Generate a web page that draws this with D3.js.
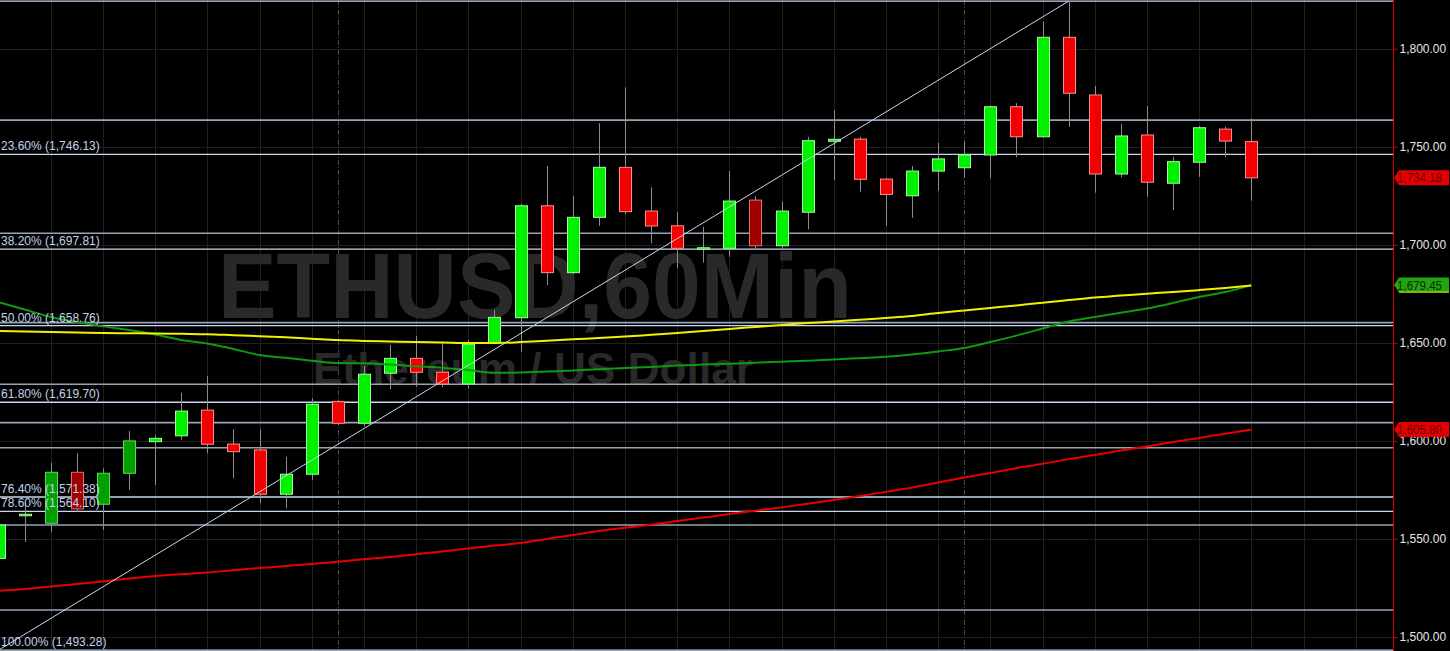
<!DOCTYPE html>
<html><head><meta charset="utf-8">
<script src="https://cdn.jsdelivr.net/npm/d3@7"></script>
<style>html,body{margin:0;padding:0;background:#000;overflow:hidden}</style>
</head><body>
<svg id="c" width="1450" height="651"></svg>
<script>
// ---- DATA ----
const opens  = [1540.1,1562.0,1558.0,1584.0,1567.7,1583.5,1599.6,1602.6,1615.7,1598.4,
                1595.4,1572.8,1583.0,1620.0,1609.0,1634.5,1642.1,1635.0,1629.0,1650.1,
                1662.8,1719.9,1685.8,1714.0,1739.5,1717.2,1709.7,1698.0,1698.2,1722.8,
                1699.5,1716.6,1752.8,1753.9,1733.5,1725.0,1737.6,1739.3,1745.8,1770.4,
                1755.1,1805.8,1776.4,1736.1,1756.0,1731.4,1742.1,1759.0,1752.6];
const highs  = [1559.0,1568.3,1588.9,1593.7,1586.0,1605.0,1603.0,1624.6,1633.2,1605.9,
                1605.9,1591.9,1621.7,1621.0,1638.2,1648.9,1653.5,1650.6,1651.4,1666.7,
                1720.8,1740.2,1724.9,1762.0,1780.3,1729.3,1716.6,1709.2,1737.6,1724.9,
                1722.0,1755.1,1768.7,1755.0,1734.0,1740.2,1752.0,1752.6,1771.0,1772.2,
                1813.8,1824.24,1781.0,1761.6,1770.8,1744.9,1760.5,1760.2,1764.5];
const lows   = [1538.0,1548.4,1553.7,1563.7,1554.6,1575.0,1577.5,1600.5,1593.7,1580.9,
                1568.2,1565.6,1580.1,1608.0,1607.5,1626.3,1627.6,1627.5,1626.8,1649.5,
                1645.5,1679.5,1685.0,1709.6,1715.7,1700.8,1688.0,1690.9,1693.9,1697.3,
                1698.2,1707.9,1733.0,1727.1,1709.7,1713.8,1727.6,1734.1,1733.9,1744.6,
                1754.5,1760.2,1726.6,1734.4,1724.5,1717.7,1734.7,1744.6,1722.5];
const closes = [1557.1,1562.6,1584.0,1565.3,1583.5,1600.0,1601.3,1615.2,1598.3,1594.5,
                1572.8,1583.0,1618.7,1609.0,1634.0,1642.1,1635.0,1629.0,1649.3,1663.0,
                1719.9,1685.8,1714.0,1739.5,1716.9,1709.6,1698.2,1698.5,1722.3,1699.5,
                1717.2,1753.1,1753.8,1733.4,1725.7,1737.6,1743.8,1745.8,1770.4,1755.1,
                1805.8,1777.3,1736.1,1755.5,1731.9,1742.4,1759.7,1752.9,1734.18];
const dimCandles = [2,3,4,5,29];

const smaYellow = [1656.0,1655.8,1655.5,1655.3,1655.0,1654.9,1654.8,1654.6,1654.4,1653.9,
                   1653.4,1652.8,1652.1,1651.4,1651.0,1650.7,1650.4,1650.2,1649.9,1649.9,
                   1650.4,1651.1,1651.8,1652.5,1653.2,1654.1,1655.0,1656.0,1657.1,1658.1,
                   1659.1,1660.1,1660.9,1661.8,1662.7,1663.7,1665.2,1666.5,1667.8,1669.1,
                   1670.5,1671.8,1673.1,1674.1,1675.1,1675.9,1676.9,1678.0,1679.2];
const smaGreen  = [1670.8,1667.0,1663.2,1660.6,1658.4,1656.5,1654.3,1651.5,1649.7,1646.9,
                   1643.8,1642.4,1640.9,1639.7,1639.6,1638.9,1638.1,1637.3,1636.1,1634.7,
                   1634.9,1635.4,1635.9,1636.6,1637.2,1637.7,1638.4,1638.9,1639.4,1639.9,
                   1640.4,1640.9,1641.5,1642.2,1642.9,1644.0,1645.6,1647.4,1650.4,1653.7,
                   1657.3,1660.9,1663.2,1665.4,1667.5,1670.3,1673.4,1675.9,1679.45];
const smaRed    = [1523.5,1524.5,1525.8,1527.0,1528.3,1529.8,1531.1,1532.0,1532.9,1534.1,
                   1535.2,1536.2,1537.2,1538.4,1539.6,1540.8,1542.2,1543.6,1545.1,1546.6,
                   1547.9,1550.0,1552.0,1554.0,1555.7,1557.3,1559.1,1560.9,1562.7,1564.4,
                   1566.1,1567.9,1569.9,1571.9,1574.0,1576.2,1578.8,1581.3,1583.6,1586.1,
                   1588.3,1590.7,1592.8,1595.1,1597.2,1599.4,1601.5,1603.7,1605.80];

const fibLabels = ["0.00%","23.60%","38.20%","50.00%","61.80%","76.40%","78.60%","100.00%"];
const fibPrices = [1824.24,1746.13,1697.81,1658.76,1619.70,1571.38,1564.10,1493.28];
const fibAnchorIdx = [0,41];
const fibAnchorPrice = [1493.28,1824.24];
const levelLines = [1763.6,1705.9,1660.3,1628.9,1609.3,1596.5,1557.1,1513.8];
const yTicks = [1500,1550,1600,1650,1700,1750,1800];
const sessionBreaks = [13,37];
const watermark = "ETHUSD,60Min";
const subtitle = "Ethereum / US Dollar";

// ---- DRAWING ----
const W = 1450, H = 651, plotR = 1393;
const svg = d3.select("#c");
const n = closes.length;
const x = d3.scaleLinear().domain([0, n-1]).range([-1.5, 1251.3]);
const y = d3.scaleLinear().domain([1500, 1800]).range([637, 48.7]);
const fmt = d3.format(",.2f");
const FONT = "Liberation Sans, Arial, sans-serif";

svg.append("rect").attr("width", W).attr("height", H).attr("fill", "#000");
svg.append("defs").append("clipPath").attr("id","clip")
   .append("rect").attr("x",0).attr("y",0).attr("width",plotR).attr("height",H);

const plot = svg.append("g").attr("clip-path","url(#clip)");

// grid
plot.append("g").selectAll("line").data(yTicks).join("line")
  .attr("x1",0).attr("x2",plotR).attr("y1",d=>Math.round(y(d))+0.5).attr("y2",d=>Math.round(y(d))+0.5)
  .attr("stroke","#1f1f1f").attr("stroke-width",1);
const gridIdx = d3.range(0, 60, 2);
plot.append("g").selectAll("line").data(gridIdx).join("line")
  .attr("x1",d=>Math.round(x(d))+0.5).attr("x2",d=>Math.round(x(d))+0.5).attr("y1",0).attr("y2",H)
  .attr("stroke","#1f1f1f").attr("stroke-width",1);
plot.append("g").selectAll("line").data(sessionBreaks).join("line")
  .attr("x1",d=>Math.round(x(d))+0.5).attr("x2",d=>Math.round(x(d))+0.5).attr("y1",0).attr("y2",H)
  .attr("stroke","#4a4a4a").attr("stroke-width",1).attr("stroke-dasharray","5,2,1,2");

// watermark
plot.append("text").attr("x",218).attr("y",318).text(watermark)
  .attr("font-family",FONT).attr("font-weight","bold")
  .attr("font-size",93).attr("fill","#292929").attr("textLength",634).attr("lengthAdjust","spacingAndGlyphs");
plot.append("text").attr("x",313).attr("y",384).text(subtitle)
  .attr("font-family",FONT).attr("font-weight","bold")
  .attr("font-size",44).attr("fill","#292929").attr("textLength",440).attr("lengthAdjust","spacingAndGlyphs");

// level lines
plot.append("g").selectAll("line").data(levelLines).join("line")
  .attr("x1",0).attr("x2",plotR).attr("y1",d=>y(d)).attr("y2",d=>y(d))
  .attr("stroke","#97a3b5").attr("stroke-width",1.6);
plot.append("g").selectAll("line").data(fibPrices).join("line")
  .attr("x1",0).attr("x2",plotR).attr("y1",d=>y(d)).attr("y2",d=>y(d))
  .attr("stroke","#c9d7ee").attr("stroke-width",1.3);

// candles
const cg = plot.append("g");
const idx = d3.range(n);
cg.selectAll("line").data(idx).join("line")
  .attr("x1",i=>Math.round(x(i))+0.5).attr("x2",i=>Math.round(x(i))+0.5)
  .attr("y1",i=>y(highs[i])).attr("y2",i=>y(lows[i]))
  .attr("stroke","#8c8c8c").attr("stroke-width",1);
const bw = 12;
cg.selectAll("rect").data(idx).join("rect")
  .attr("x",i=>Math.round(x(i))-bw/2+0.5).attr("width",bw)
  .attr("y",i=>y(Math.max(opens[i],closes[i])))
  .attr("height",i=>Math.max(1.5, Math.abs(y(opens[i])-y(closes[i]))))
  .attr("fill",i=>{
    const up = closes[i]>=opens[i], dim = dimCandles.includes(i);
    return up ? (dim?"#00a000":"#00f000") : (dim?"#a00000":"#f00000");
  })
  .attr("stroke",i=>{
    const up = closes[i]>=opens[i], dim = dimCandles.includes(i);
    return up ? (dim?"#5fd25f":"#9bff9b") : (dim?"#e07070":"#ff8c8c");
  }).attr("stroke-width",1);

// moving averages
const line = d3.line().x((d,i)=>x(i)).y(d=>y(d)).curve(d3.curveMonotoneX);
plot.append("path").datum(smaRed).attr("d",line).attr("fill","none").attr("stroke","#e80000").attr("stroke-width",2);
plot.append("path").datum(smaGreen).attr("d",line).attr("fill","none").attr("stroke","#0f9a0f").attr("stroke-width",2);
plot.append("path").datum(smaYellow).attr("d",line).attr("fill","none").attr("stroke","#f2f200").attr("stroke-width",2);

// fib trend line
plot.append("line")
  .attr("x1",x(fibAnchorIdx[0])).attr("y1",y(fibAnchorPrice[0]))
  .attr("x2",x(fibAnchorIdx[1])).attr("y2",y(fibAnchorPrice[1]))
  .attr("stroke","#c9d7ee").attr("stroke-width",1);

// fib labels (on top of candles)
plot.append("g").selectAll("text").data(fibPrices.map((p,i)=>({p,l:fibLabels[i]})).filter((d,i)=>i>0)).join("text")
  .attr("x",1).attr("y",d=>y(d.p)-4)
  .text(d=>`${d.l} (${fmt(d.p)})`)
  .attr("font-family",FONT).attr("font-size",12).attr("fill","#c4d2ea");

// right axis
svg.append("line").attr("x1",plotR+0.5).attr("x2",plotR+0.5).attr("y1",0).attr("y2",H)
  .attr("stroke","#d40000").attr("stroke-width",1);
const ax = svg.append("g").attr("transform",`translate(${plotR+0.5},0)`)
  .call(d3.axisRight(y).tickValues(yTicks).tickFormat(fmt).tickSize(4).tickPadding(2));
ax.select(".domain").remove();
ax.selectAll(".tick line").attr("stroke","#d40000");
ax.selectAll(".tick text").attr("fill","#e6e6e6").attr("font-family",FONT).attr("font-size",12);

// price tags
const tags = [
  {v: closes[n-1], fill:"#e40000", text:"#6a0000", edge:null},
  {v: smaGreen[n-1], fill:"#23a412", text:"#052e05", edge:"#e8e800"},
  {v: smaRed[n-1], fill:"#e40000", text:"#6a0000", edge:null}
];
const tg = svg.append("g");
tags.forEach(t=>{
  const cy = y(t.v), h = 15, x0 = plotR+1, x1 = W-1;
  tg.append("path")
    .attr("d",`M${x0},${cy} L${x0+5},${cy-h/2} L${x1},${cy-h/2} L${x1},${cy+h/2} L${x0+5},${cy+h/2} Z`)
    .attr("fill",t.fill);
  if (t.edge) tg.append("line").attr("x1",x0+5).attr("x2",x1).attr("y1",cy+h/2-0.5).attr("y2",cy+h/2-0.5)
    .attr("stroke",t.edge).attr("stroke-width",1);
  tg.append("text").attr("x",plotR+4).attr("y",cy+4.5).text(fmt(t.v))
    .attr("font-family",FONT).attr("font-size",12).attr("fill",t.text)
    .attr("textLength",45).attr("lengthAdjust","spacingAndGlyphs");
});
</script>
</body></html>
